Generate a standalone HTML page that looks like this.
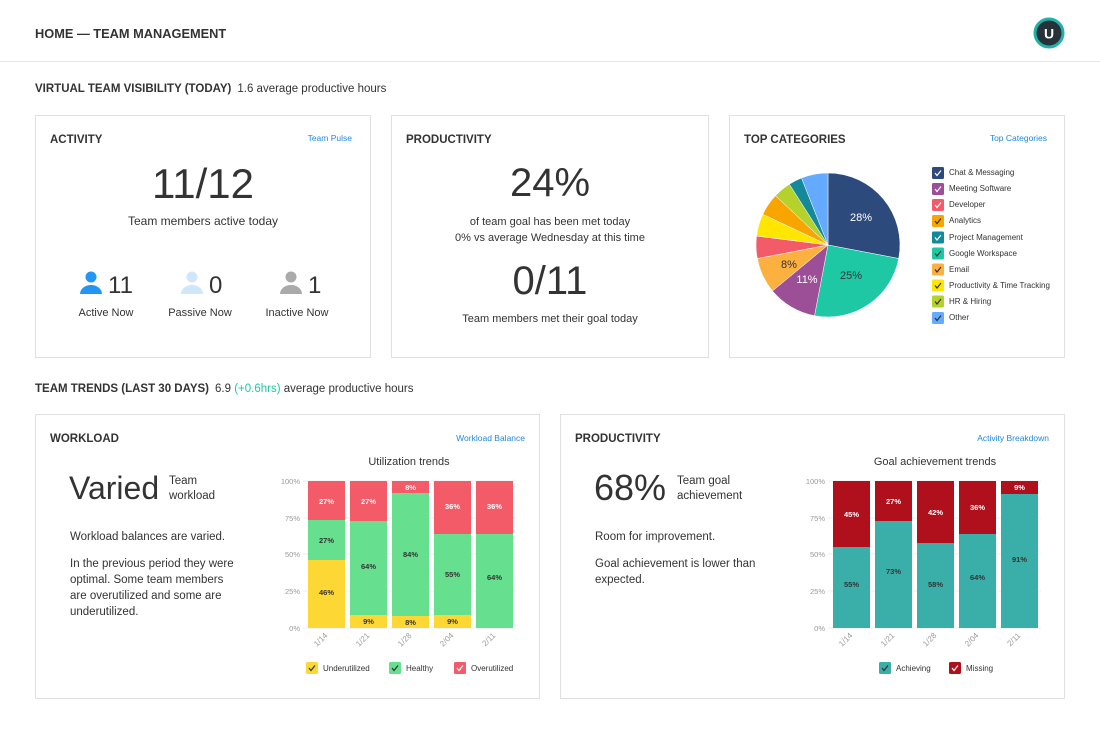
<!DOCTYPE html>
<html><head><meta charset="utf-8"><style>
body{margin:0;background:#fff}
svg{display:block;font-family:"Liberation Sans",sans-serif}
</style></head><body>
<svg width="1100" height="733" viewBox="0 0 1100 733">
<rect width="1100" height="733" fill="#fff"/>
<text x="35" y="38" font-size="12.8" font-weight="bold" fill="#333">HOME — TEAM MANAGEMENT</text>
<circle cx="1049" cy="33" r="14" fill="#263238" stroke="#20b2aa" stroke-width="3"/>
<text x="1049" y="38.5" font-size="14" font-weight="bold" fill="#fff" text-anchor="middle">U</text>
<line x1="0" y1="61.5" x2="1100" y2="61.5" stroke="#e6e6e6"/>
<text x="35" y="92" font-size="11.5" fill="#333"><tspan font-weight="bold">VIRTUAL TEAM VISIBILITY (TODAY)</tspan><tspan dx="6">1.6 average productive hours</tspan></text>
<g fill="#fff" stroke="#e0e0e0">
<rect x="35.5" y="115.5" width="335" height="242"/>
<rect x="391.5" y="115.5" width="317" height="242"/>
<rect x="729.5" y="115.5" width="335" height="242"/>
<rect x="35.5" y="414.5" width="504" height="284"/>
<rect x="560.5" y="414.5" width="504" height="284"/>
</g>
<!-- Activity -->
<text x="50" y="143" font-size="11.5" font-weight="bold" fill="#333">ACTIVITY</text>
<text x="352" y="141" font-size="8.5" fill="#1e88e5" text-anchor="end">Team Pulse</text>
<text x="203" y="198" font-size="42" fill="#333" text-anchor="middle">11/12</text>
<text x="203" y="225" font-size="12" fill="#333" text-anchor="middle">Team members active today</text>
<g>
<circle cx="91" cy="277" r="5.5" fill="#2196f3"/><path d="M80 294 a11 9 0 0 1 22 0 z" fill="#2196f3"/>
<text x="108" y="293" font-size="24" fill="#333">11</text>
<circle cx="192" cy="277" r="5.5" fill="#cfe6fb"/><path d="M181 294 a11 9 0 0 1 22 0 z" fill="#cfe6fb"/>
<text x="209" y="293" font-size="24" fill="#333">0</text>
<circle cx="291" cy="277" r="5.5" fill="#aaa"/><path d="M280 294 a11 9 0 0 1 22 0 z" fill="#aaa"/>
<text x="308" y="293" font-size="24" fill="#333">1</text>
<text x="106" y="316" font-size="11" fill="#333" text-anchor="middle">Active Now</text>
<text x="200" y="316" font-size="11" fill="#333" text-anchor="middle">Passive Now</text>
<text x="297" y="316" font-size="11" fill="#333" text-anchor="middle">Inactive Now</text>
</g>
<!-- Productivity -->
<text x="406" y="143" font-size="11.5" font-weight="bold" fill="#333">PRODUCTIVITY</text>
<text x="550" y="196" font-size="40" fill="#333" text-anchor="middle">24%</text>
<text x="550" y="225" font-size="11" fill="#333" text-anchor="middle">of team goal has been met today</text>
<text x="550" y="241" font-size="11" fill="#333" text-anchor="middle">0% vs average Wednesday at this time</text>
<text x="550" y="294" font-size="40" fill="#333" text-anchor="middle">0/11</text>
<text x="550" y="322" font-size="11" fill="#333" text-anchor="middle">Team members met their goal today</text>
<!-- Top categories -->
<text x="744" y="143" font-size="11.5" font-weight="bold" fill="#333">TOP CATEGORIES</text>
<text x="1047" y="141" font-size="8.5" fill="#1e88e5" text-anchor="end">Top Categories</text>
<g stroke="#fff" stroke-width="0.5">
<path d="M828 245 L828 173 A72 72 0 0 1 898.7 258.5 Z" fill="#2c4a7c"/>
<path d="M828 245 L898.7 258.5 A72 72 0 0 1 814.5 315.7 Z" fill="#1ec8a5"/>
<path d="M828 245 L814.5 315.7 A72 72 0 0 1 772.5 290.9 Z" fill="#9c4f96"/>
<path d="M828 245 L772.5 290.9 A72 72 0 0 1 757.3 258.5 Z" fill="#fbb040"/>
<path d="M828 245 L757.3 258.5 A72 72 0 0 1 756.6 236 Z" fill="#f45b69"/>
<path d="M828 245 L756.6 236 A72 72 0 0 1 762.8 214.3 Z" fill="#ffe600"/>
<path d="M828 245 L762.8 214.3 A72 72 0 0 1 775.5 195.7 Z" fill="#f8a500"/>
<path d="M828 245 L775.5 195.7 A72 72 0 0 1 789.4 184.2 Z" fill="#b5d12b"/>
<path d="M828 245 L789.4 184.2 A72 72 0 0 1 801.5 178 Z" fill="#13899a"/>
<path d="M828 245 L801.5 178 A72 72 0 0 1 828 173 Z" fill="#64aaff"/>
</g>
<text x="861" y="221" font-size="11" fill="#fff" text-anchor="middle">28%</text>
<text x="851" y="279" font-size="11" fill="#333" text-anchor="middle">25%</text>
<text x="807" y="283" font-size="11" fill="#fff" text-anchor="middle">11%</text>
<text x="789" y="268" font-size="11" fill="#333" text-anchor="middle">8%</text>
<g font-size="8" fill="#333">
<rect x="932" y="167" width="12" height="12" rx="1.5" fill="#2c4a7c"/><text x="949" y="175">Chat &amp; Messaging</text>
<rect x="932" y="183" width="12" height="12" rx="1.5" fill="#9c4f96"/><text x="949" y="191">Meeting Software</text>
<rect x="932" y="199" width="12" height="12" rx="1.5" fill="#f45b69"/><text x="949" y="207">Developer</text>
<rect x="932" y="215" width="12" height="12" rx="1.5" fill="#f8a500"/><text x="949" y="223">Analytics</text>
<rect x="932" y="231.5" width="12" height="12" rx="1.5" fill="#13899a"/><text x="949" y="240">Project Management</text>
<rect x="932" y="247.5" width="12" height="12" rx="1.5" fill="#1ec8a5"/><text x="949" y="256">Google Workspace</text>
<rect x="932" y="263.5" width="12" height="12" rx="1.5" fill="#fbb040"/><text x="949" y="272">Email</text>
<rect x="932" y="279.5" width="12" height="12" rx="1.5" fill="#ffe600"/><text x="949" y="288">Productivity &amp; Time Tracking</text>
<rect x="932" y="295.5" width="12" height="12" rx="1.5" fill="#b5d12b"/><text x="949" y="304">HR &amp; Hiring</text>
<rect x="932" y="312" width="12" height="12" rx="1.5" fill="#64aaff"/><text x="949" y="320">Other</text>
</g>
<g fill="none" stroke="#fff" stroke-width="1.2">
<path d="M935 173 l2 2.5 l4 -5"/><path d="M935 189 l2 2.5 l4 -5"/><path d="M935 205 l2 2.5 l4 -5"/><path d="M935 221 l2 2.5 l4 -5" stroke="#333"/><path d="M935 237.5 l2 2.5 l4 -5"/><path d="M935 253.5 l2 2.5 l4 -5" stroke="#333"/><path d="M935 269.5 l2 2.5 l4 -5" stroke="#333"/><path d="M935 285.5 l2 2.5 l4 -5" stroke="#333"/><path d="M935 301.5 l2 2.5 l4 -5" stroke="#333"/><path d="M935 318 l2 2.5 l4 -5" stroke="#333"/>
</g>
<!-- Team trends -->
<text x="35" y="392" font-size="11.5" fill="#333"><tspan font-weight="bold">TEAM TRENDS (LAST 30 DAYS)</tspan><tspan dx="6">6.9 </tspan><tspan fill="#1ec8a5">(+0.6hrs)</tspan><tspan> average productive hours</tspan></text>
<!-- Workload -->
<text x="50" y="442" font-size="11.5" font-weight="bold" fill="#333">WORKLOAD</text>
<text x="525" y="441" font-size="8.5" fill="#1e88e5" text-anchor="end">Workload Balance</text>
<text x="69" y="499" font-size="32" fill="#333">Varied</text>
<text x="169" y="484" font-size="11.5" fill="#333">Team</text>
<text x="169" y="499" font-size="11.5" fill="#333">workload</text>
<g font-size="11.5" fill="#333">
<text x="70" y="540">Workload balances are varied.</text>
<text x="70" y="567">In the previous period they were</text>
<text x="70" y="583">optimal. Some team members</text>
<text x="70" y="599">are overutilized and some are</text>
<text x="70" y="615">underutilized.</text>
</g>
<text x="409" y="465" font-size="11" fill="#333" text-anchor="middle">Utilization trends</text>
<g stroke="#eee"><line x1="303" y1="481" x2="516" y2="481"/><line x1="303" y1="518" x2="516" y2="518"/><line x1="303" y1="554" x2="516" y2="554"/><line x1="303" y1="591" x2="516" y2="591"/><line x1="303" y1="628" x2="516" y2="628"/></g>
<g font-size="7.5" fill="#999" text-anchor="end"><text x="300" y="484">100%</text><text x="300" y="521">75%</text><text x="300" y="557">50%</text><text x="300" y="594">25%</text><text x="300" y="631">0%</text></g>
<g>
<rect x="308" y="560" width="37" height="68" fill="#fdd835"/><rect x="308" y="520" width="37" height="40" fill="#66df8e"/><rect x="308" y="481" width="37" height="39" fill="#f45b69"/>
<rect x="350" y="615" width="37" height="13" fill="#fdd835"/><rect x="350" y="521" width="37" height="94" fill="#66df8e"/><rect x="350" y="481" width="37" height="40" fill="#f45b69"/>
<rect x="392" y="616" width="37" height="12" fill="#fdd835"/><rect x="392" y="493" width="37" height="123" fill="#66df8e"/><rect x="392" y="481" width="37" height="12" fill="#f45b69"/>
<rect x="434" y="615" width="37" height="13" fill="#fdd835"/><rect x="434" y="534" width="37" height="81" fill="#66df8e"/><rect x="434" y="481" width="37" height="53" fill="#f45b69"/>
<rect x="476" y="534" width="37" height="94" fill="#66df8e"/><rect x="476" y="481" width="37" height="53" fill="#f45b69"/>
</g>
<g font-size="7.5" font-weight="bold" text-anchor="middle" fill="#333">
<text x="326.5" y="595">46%</text><text x="326.5" y="543">27%</text><text x="326.5" y="504" fill="#fff">27%</text>
<text x="368.5" y="624">9%</text><text x="368.5" y="569">64%</text><text x="368.5" y="504" fill="#fff">27%</text>
<text x="410.5" y="625">8%</text><text x="410.5" y="557">84%</text><text x="410.5" y="490" fill="#fff">8%</text>
<text x="452.5" y="624">9%</text><text x="452.5" y="577">55%</text><text x="452.5" y="509" fill="#fff">36%</text>
<text x="494.5" y="580">64%</text><text x="494.5" y="509" fill="#fff">36%</text>
</g>
<g font-size="8" fill="#999" text-anchor="end">
<text transform="translate(328,636) rotate(-45)">1/14</text><text transform="translate(370,636) rotate(-45)">1/21</text><text transform="translate(412,636) rotate(-45)">1/28</text><text transform="translate(454,636) rotate(-45)">2/04</text><text transform="translate(496,636) rotate(-45)">2/11</text>
</g>
<g font-size="8" fill="#333">
<rect x="306" y="662" width="12" height="12" rx="1.5" fill="#fdd835"/><text x="323" y="671">Underutilized</text>
<rect x="389" y="662" width="12" height="12" rx="1.5" fill="#66df8e"/><text x="406" y="671">Healthy</text>
<rect x="454" y="662" width="12" height="12" rx="1.5" fill="#f45b69"/><text x="471" y="671">Overutilized</text>
</g>
<g fill="none" stroke="#333" stroke-width="1.2"><path d="M309 668 l2 2.5 l4 -5"/><path d="M392 668 l2 2.5 l4 -5"/><path d="M457 668 l2 2.5 l4 -5" stroke="#fff"/></g>
<!-- Productivity bottom -->
<text x="575" y="442" font-size="11.5" font-weight="bold" fill="#333">PRODUCTIVITY</text>
<text x="1049" y="441" font-size="8.5" fill="#1e88e5" text-anchor="end">Activity Breakdown</text>
<text x="594" y="500" font-size="36" fill="#333">68%</text>
<text x="677" y="484" font-size="11.5" fill="#333">Team goal</text>
<text x="677" y="499" font-size="11.5" fill="#333">achievement</text>
<g font-size="11.5" fill="#333">
<text x="595" y="540">Room for improvement.</text>
<text x="595" y="567">Goal achievement is lower than</text>
<text x="595" y="583">expected.</text>
</g>
<text x="935" y="465" font-size="11" fill="#333" text-anchor="middle">Goal achievement trends</text>
<g stroke="#eee"><line x1="828" y1="481" x2="1041" y2="481"/><line x1="828" y1="518" x2="1041" y2="518"/><line x1="828" y1="554" x2="1041" y2="554"/><line x1="828" y1="591" x2="1041" y2="591"/><line x1="828" y1="628" x2="1041" y2="628"/></g>
<g font-size="7.5" fill="#999" text-anchor="end"><text x="825" y="484">100%</text><text x="825" y="521">75%</text><text x="825" y="557">50%</text><text x="825" y="594">25%</text><text x="825" y="631">0%</text></g>
<g>
<rect x="833" y="547" width="37" height="81" fill="#3aafa9"/><rect x="833" y="481" width="37" height="66" fill="#b0101c"/>
<rect x="875" y="521" width="37" height="107" fill="#3aafa9"/><rect x="875" y="481" width="37" height="40" fill="#b0101c"/>
<rect x="917" y="543" width="37" height="85" fill="#3aafa9"/><rect x="917" y="481" width="37" height="62" fill="#b0101c"/>
<rect x="959" y="534" width="37" height="94" fill="#3aafa9"/><rect x="959" y="481" width="37" height="53" fill="#b0101c"/>
<rect x="1001" y="494" width="37" height="134" fill="#3aafa9"/><rect x="1001" y="481" width="37" height="13" fill="#b0101c"/>
</g>
<g font-size="7.5" font-weight="bold" text-anchor="middle" fill="#333">
<text x="851.5" y="587">55%</text><text x="851.5" y="517" fill="#fff">45%</text>
<text x="893.5" y="574">73%</text><text x="893.5" y="504" fill="#fff">27%</text>
<text x="935.5" y="587">58%</text><text x="935.5" y="515" fill="#fff">42%</text>
<text x="977.5" y="580">64%</text><text x="977.5" y="510" fill="#fff">36%</text>
<text x="1019.5" y="562">91%</text><text x="1019.5" y="490" fill="#fff">9%</text>
</g>
<g font-size="8" fill="#999" text-anchor="end">
<text transform="translate(853,636) rotate(-45)">1/14</text><text transform="translate(895,636) rotate(-45)">1/21</text><text transform="translate(937,636) rotate(-45)">1/28</text><text transform="translate(979,636) rotate(-45)">2/04</text><text transform="translate(1021,636) rotate(-45)">2/11</text>
</g>
<g font-size="8" fill="#333">
<rect x="879" y="662" width="12" height="12" rx="1.5" fill="#3aafa9"/><text x="896" y="671">Achieving</text>
<rect x="949" y="662" width="12" height="12" rx="1.5" fill="#b0101c"/><text x="966" y="671">Missing</text>
</g>
<g fill="none" stroke="#333" stroke-width="1.2"><path d="M882 668 l2 2.5 l4 -5"/><path d="M952 668 l2 2.5 l4 -5" stroke="#fff"/></g>
</svg>
</body></html>
